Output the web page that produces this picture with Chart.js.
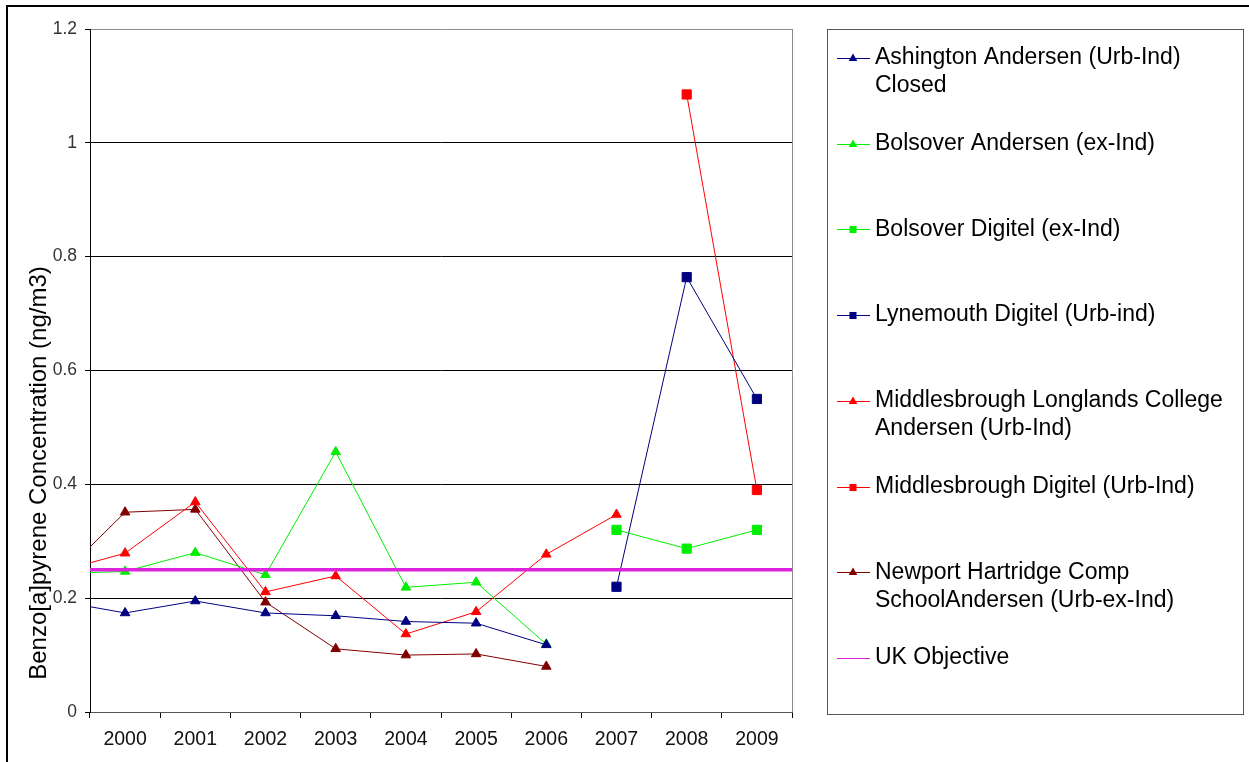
<!DOCTYPE html>
<html>
<head>
<meta charset="utf-8">
<title>Benzo[a]pyrene Concentration</title>
<script src="https://cdn.jsdelivr.net/npm/chart.js"></script>
<style>
  html, body { margin: 0; padding: 0; background: #fff; }
  canvas { display: block; }
</style>
</head>
<body>
<canvas id="bapChart" width="1249" height="762"></canvas>
<script>
// --- Data (1999 sits just left of the visible axis range) ---
const years = ['1999', '2000', '2001', '2002', '2003', '2004', '2005', '2006', '2007', '2008', '2009'];

const ashington = [0.196, 0.174, 0.195, 0.174, 0.169, 0.159, 0.156, 0.118, null, null, null];
const bolsoverAndersen = [0.243, 0.247, 0.280, 0.241, 0.457, 0.219, 0.228, 0.119, null, null, null];
const bolsoverDigitel = [null, null, null, null, null, null, null, null, 0.320, 0.287, 0.320];
const lynemouthDigitel = [null, null, null, null, null, null, null, null, 0.220, 0.764, 0.550];
const middlesbroughLonglands = [0.245, 0.279, 0.369, 0.211, 0.239, 0.137, 0.176, 0.277, 0.347, null, null];
const middlesbroughDigitel = [null, null, null, null, null, null, null, null, null, 1.085, 0.390];
const newportHartridge = [0.229, 0.351, 0.356, 0.193, 0.111, 0.100, 0.102, 0.080, null, null, null];

// the objective runs across the whole plot, edge to edge
const objectiveSpan = ['start', 'end'];
const ukObjective = [0.25, 0.25];

// legend text, already split into the lines shown in the legend box
const seriesNames = [
    ['Ashington Andersen (Urb-Ind)', 'Closed'],
    ['Bolsover Andersen (ex-Ind)'],
    ['Bolsover Digitel (ex-Ind)'],
    ['Lynemouth Digitel (Urb-ind)'],
    ['Middlesbrough Longlands College', 'Andersen (Urb-Ind)'],
    ['Middlesbrough Digitel (Urb-Ind)'],
    ['Newport Hartridge Comp', 'SchoolAndersen (Urb-ex-Ind)'],
    ['UK Objective']
];

const yTitle = 'Benzo[a]pyrene Concentration (ng/m3)';

Chart.defaults.font.family = '"Liberation Sans", Arial, sans-serif';

const makeSeries = (i, data, color, style) => ({
    label: seriesNames[i].join(' '),
    lines: seriesNames[i],
    data: data,
    borderColor: color,
    backgroundColor: color,
    pointBackgroundColor: color,
    pointBorderColor: color,
    borderWidth: 1,
    pointStyle: style,
    pointRadius: style === 'rect' ? 6.5 : 5.5,
    pointBorderWidth: 1,
    tension: 0,
    order: 1
});

const datasets = [
    makeSeries(0, ashington, '#000080', 'triangle'),
    makeSeries(1, bolsoverAndersen, '#00ee00', 'triangle'),
    makeSeries(2, bolsoverDigitel, '#00ee00', 'rect'),
    makeSeries(3, lynemouthDigitel, '#000080', 'rect'),
    makeSeries(4, middlesbroughLonglands, '#ff0000', 'triangle'),
    makeSeries(5, middlesbroughDigitel, '#ff0000', 'rect'),
    makeSeries(6, newportHartridge, '#800000', 'triangle'),
    {
        label: seriesNames[7].join(' '),
        lines: seriesNames[7],
        data: ukObjective,
        xAxisID: 'x2',
        borderColor: '#dd22dd',
        backgroundColor: '#dd22dd',
        borderWidth: 3.5,
        pointRadius: 0,
        pointStyle: false,
        order: 0
    }
];

// --- Frame, legend box and y title ---
const decorations = {
    id: 'decorations',
    beforeDatasetsDraw(chart) {
        const { ctx, chartArea: a } = chart;
        ctx.save();
        ctx.strokeStyle = '#8c8c8c';
        ctx.lineWidth = 1;
        ctx.beginPath();
        ctx.moveTo(Math.round(a.right) + 0.5, a.top);
        ctx.lineTo(Math.round(a.right) + 0.5, a.bottom);
        ctx.stroke();
        ctx.restore();
    },
    afterDraw(chart) {
        const { ctx, chartArea: a } = chart;
        ctx.save();

        // outer border of the picture
        ctx.strokeStyle = '#000';
        ctx.lineWidth = 2;
        ctx.strokeRect(7, 6, chart.width + 20, chart.height + 20);

        // y axis title
        ctx.fillStyle = '#000';
        ctx.font = '24px "Liberation Sans", Arial, sans-serif';
        ctx.textAlign = 'center';
        ctx.textBaseline = 'middle';
        ctx.translate(39, 473);
        ctx.rotate(-Math.PI / 2);
        ctx.fillText(yTitle, 0, 0);
        ctx.setTransform(1, 0, 0, 1, 0, 0);

        // legend box
        const left = Math.round(a.right) + 35;
        const top = Math.round(a.top);
        const right = chart.width - 6;
        const bottom = Math.round(a.bottom) + 2;
        ctx.strokeStyle = '#555';
        ctx.lineWidth = 1;
        ctx.strokeRect(left + 0.5, top + 0.5, right - left, bottom - top);

        ctx.font = '23px "Liberation Sans", Arial, sans-serif';
        ctx.textAlign = 'left';
        const step = 85.7;
        chart.data.datasets.forEach((ds, i) => {
            const y = top + 29 + i * step;
            const cy = Math.round(y) + 0.5;
            const cx = left + 26;
            ctx.strokeStyle = ds.borderColor;
            ctx.lineWidth = 1;
            ctx.beginPath();
            ctx.moveTo(cx - 16, cy);
            ctx.lineTo(cx + 17, cy);
            ctx.stroke();
            if (ds.pointRadius > 0) {
                ctx.fillStyle = ds.pointBackgroundColor;
                Chart.helpers.drawPoint(ctx, { pointStyle: ds.pointStyle, radius: ds.pointStyle === 'rect' ? 5 : 5, borderWidth: 0, rotation: 0 }, cx, cy);
            }
            ctx.fillStyle = '#000';
            ds.lines.forEach((line, k) => ctx.fillText(line, left + 48, y + k * 28));
        });
        ctx.restore();
    }
};

const ctx = document.getElementById('bapChart').getContext('2d');
new Chart(ctx, {
    type: 'line',
    data: { labels: years, datasets: datasets },
    options: {
        responsive: false,
        animation: false,
        events: [],
        layout: { padding: { top: 29, right: 457, bottom: 0, left: 0 } },
        plugins: {
            legend: { display: false },
            tooltip: { enabled: false }
        },
        scales: {
            x: {
                type: 'category',
                min: '2000',
                max: '2009',
                offset: true,
                grid: { offset: true, drawOnChartArea: false, tickLength: 6, color: '#000' },
                border: { color: '#555' },
                ticks: { color: '#111', font: { size: 19.5 }, padding: 10, maxRotation: 0, autoSkip: false },
                afterFit: (scale) => { scale.height = 50; }
            },
            x2: {
                type: 'category',
                labels: objectiveSpan,
                display: false,
                offset: false
            },
            y: {
                min: 0,
                max: 1.2,
                ticks: {
                    stepSize: 0.2,
                    color: '#333',
                    font: { size: 17.5 },
                    padding: 8,
                    callback: (v) => String(parseFloat(v.toFixed(1)))
                },
                grid: {
                    color: (c) => c.tick.value > 1.1 ? '#8c8c8c' : '#000',
                    tickColor: '#000',
                    tickLength: 5
                },
                border: { color: '#000' },
                afterFit: (scale) => { scale.width = 90; }
            }
        }
    },
    plugins: [decorations]
});
</script>
</body>
</html>
